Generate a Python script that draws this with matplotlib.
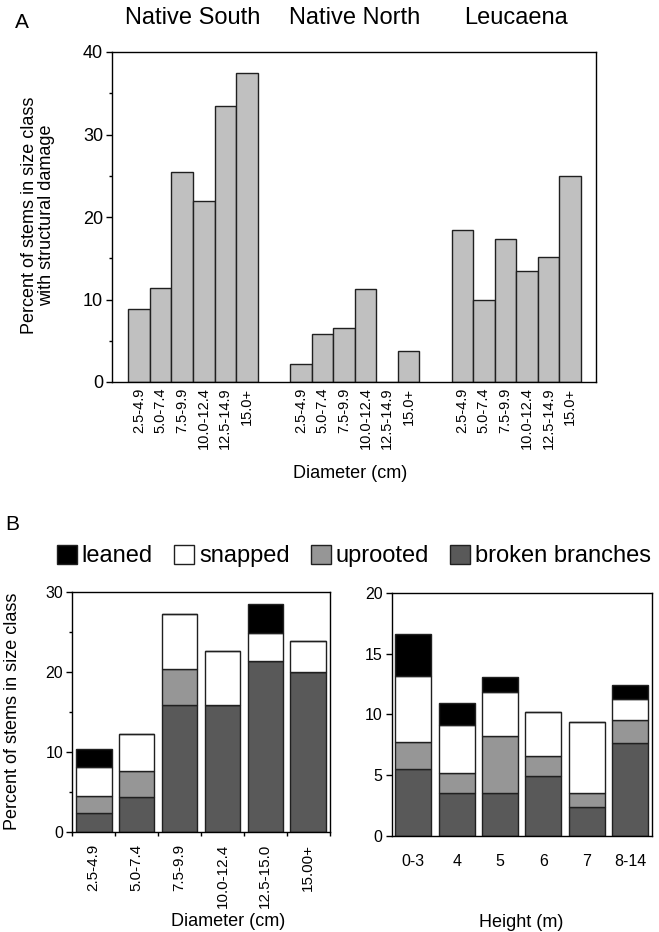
import numpy as np
import matplotlib
matplotlib.use('Agg')
import matplotlib.pyplot as plt
from matplotlib.patches import Patch
from matplotlib.ticker import MultipleLocator
import matplotlib.transforms as mtransforms

plt.rcParams['font.family'] = ['Liberation Sans', 'DejaVu Sans']

# panel A data
sites = ['Native South', 'Native North', 'Leucaena']
size_classes = ['2.5-4.9', '5.0-7.4', '7.5-9.9', '10.0-12.4', '12.5-14.9', '15.0+']
native_south = [8.9, 11.4, 25.5, 22.0, 33.4, 37.5]
native_north = [2.2, 5.8, 6.6, 11.3, 0.0, 3.8]
leucaena = [18.4, 10.0, 17.3, 13.4, 15.1, 25.0]

# panel B data (stacked: broken, uprooted, snapped, leaned)
diam_classes = ['2.5-4.9', '5.0-7.4', '7.5-9.9', '10.0-12.4', '12.5-15.0', '15.00+']
diam_broken = [2.33, 4.38, 15.83, 15.83, 21.33, 19.92]
diam_uprooted = [2.17, 3.17, 4.5, 0.0, 0.0, 0.0]
diam_snapped = [3.54, 4.66, 6.87, 6.77, 3.47, 3.9]
diam_leaned = [2.29, 0.0, 0.0, 0.0, 3.7, 0.0]

height_classes = ['0-3', '4', '5', '6', '7', '8-14']
ht_broken = [5.48, 3.53, 3.53, 4.9, 2.41, 7.64]
ht_uprooted = [2.27, 1.62, 4.69, 1.7, 1.12, 1.92]
ht_snapped = [5.43, 3.97, 3.58, 3.56, 5.87, 1.74]
ht_leaned = [3.4, 1.84, 1.24, 0.0, 0.0, 1.08]

damage_types = ['broken branches', 'uprooted', 'snapped', 'leaned']
damage_colors = ['#595959', '#969696', '#ffffff', '#000000']

W, H = 659, 932
fig = plt.figure(figsize=(W / 100, H / 100), dpi=100)

def frac(l, t, r, b):
    return [l / W, 1 - b / H, (r - l) / W, (b - t) / H]

# ---------- panel A ----------
axA = fig.add_axes(frac(112, 52, 596, 382))
offsets = [0, 7.5, 15]
xt, xl = [], []
for off, vals in zip(offsets, [native_south, native_north, leucaena]):
    x = off + np.arange(len(vals))
    axA.bar(x, vals, width=1.0, color='#c0c0c0', edgecolor='#202020', linewidth=1.0)
    xt += list(x)
    xl += size_classes
axA.set_xlim(-1.26, 21.2)
axA.set_ylim(0, 40)
axA.yaxis.set_major_locator(MultipleLocator(10))
axA.yaxis.set_minor_locator(MultipleLocator(5))
axA.set_xticks(xt)
axA.set_xticklabels(xl, rotation=90, fontsize=10.5)
axA.tick_params(axis='x', length=0, pad=4)
axA.tick_params(axis='y', which='major', length=4.5, width=1, labelsize=13, pad=2)
axA.tick_params(axis='y', which='minor', length=2.5, width=1)
for s in axA.spines.values():
    s.set_linewidth(1.0)
axA.set_ylabel('Percent of stems in size class\nwith structural damage', fontsize=13,
               linespacing=1.0, va='center')
axA.yaxis.set_label_coords(-0.153, 0.506)
axA.set_xlabel('Diameter (cm)', fontsize=13, va='center')
axA.xaxis.set_label_coords(0.491, -0.276)
trans = mtransforms.blended_transform_factory(axA.transData, axA.transAxes)
for off, name in zip(offsets, sites):
    axA.text(off + 2.5, 1.103, name, transform=trans, ha='center', va='center', fontsize=17)
fig.text(15 / W, 1 - 22 / H, 'A', fontsize=15, va='center', ha='left')

# ---------- panel B ----------
def stacked(ax, cats, layers):
    x = np.arange(len(cats))
    bottom = np.zeros(len(cats))
    for vals, c in zip(layers, damage_colors):
        ax.bar(x, vals, width=0.83, bottom=bottom, color=c, edgecolor='#202020', linewidth=1.0)
        bottom += np.array(vals)
    ax.set_xlim(-0.5, len(cats) - 0.5)
    for s in ax.spines.values():
        s.set_linewidth(1.0)
    return x

axB1 = fig.add_axes(frac(72.3, 591.7, 329.7, 831.7))
x1 = stacked(axB1, diam_classes, [diam_broken, diam_uprooted, diam_snapped, diam_leaned])
axB1.set_ylim(0, 30)
axB1.yaxis.set_major_locator(MultipleLocator(10))
axB1.yaxis.set_minor_locator(MultipleLocator(5))
axB1.set_xticks(np.arange(-0.5, 6, 1.0), minor=True)
axB1.set_xticks(x1)
axB1.set_xticklabels(diam_classes, rotation=90, fontsize=11)
axB1.tick_params(axis='x', which='major', length=0, pad=9)
axB1.tick_params(axis='x', which='minor', length=3, width=1)
axB1.tick_params(axis='y', which='major', length=4.5, width=1, labelsize=11.5, pad=2)
axB1.tick_params(axis='y', which='minor', length=2.5, width=1)
axB1.set_ylabel('Percent of stems in size class', fontsize=13, va='center')
axB1.yaxis.set_label_coords(-0.232, 0.503)
axB1.set_xlabel('Diameter (cm)', fontsize=13, va='center')
axB1.xaxis.set_label_coords(0.605, -0.376)

axB2 = fig.add_axes(frac(391.7, 592.7, 651.7, 836))
x2 = stacked(axB2, height_classes, [ht_broken, ht_uprooted, ht_snapped, ht_leaned])
axB2.set_ylim(0, 20)
axB2.yaxis.set_major_locator(MultipleLocator(5))
axB2.set_xticks(x2)
axB2.set_xticklabels(height_classes, fontsize=11.5)
axB2.tick_params(axis='x', length=0, pad=13)
axB2.tick_params(axis='y', length=4.5, width=1, labelsize=11.5, pad=2)
axB2.set_xlabel('Height (m)', fontsize=13, va='center')
axB2.xaxis.set_label_coords(0.498, -0.355)

handles = [Patch(facecolor=c, edgecolor='#202020', linewidth=1.0, label=n)
           for n, c in zip(damage_types, damage_colors)][::-1]
fig.legend(handles=handles, loc='center', bbox_to_anchor=(354 / W, 1 - 556 / H), ncol=4,
           frameon=False, fontsize=17, handlelength=0.85, handleheight=0.85,
           handletextpad=0.2, columnspacing=0.9, borderpad=0, borderaxespad=0)
fig.text(5 / W, 1 - 525 / H, 'B', fontsize=15, va='center', ha='left')

fig.savefig('out.png', dpi=100)
